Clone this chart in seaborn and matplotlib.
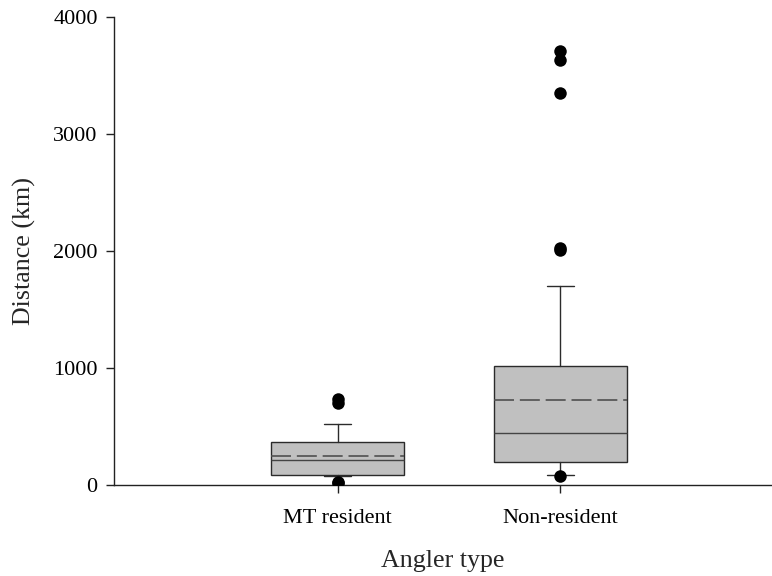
import matplotlib
matplotlib.use("Agg")
import matplotlib.pyplot as plt
import seaborn as sns
import pandas as pd

# Summary statistics per angler type (km)
groups = ["MT resident", "Non-resident"]
q1 = [85, 199]
median = [214, 444]
q3 = [365, 1017]
mean = [248, 726]
whisker_low = [80, 88]
whisker_high = [524, 1704]

# Points beyond the whiskers
outlier_group = ["MT resident", "MT resident", "MT resident", "MT resident",
                 "Non-resident", "Non-resident", "Non-resident",
                 "Non-resident", "Non-resident", "Non-resident"]
outlier_value = [733, 698, 15, 28,
                 3709, 3632, 3348, 2025, 2008, 78]

sns.set_style("ticks")
plt.rcParams["font.family"] = ["Liberation Serif", "DejaVu Serif"]

W, H = 772, 576
left_px, right_px, top_px, bottom_px = 114.3, 772, 16.7, 485

fig = plt.figure(figsize=(W / 100, H / 100), dpi=100)
ax = fig.add_axes([left_px / W, 1 - bottom_px / H,
                   (right_px - left_px) / W, (bottom_px - top_px) / H])

outliers = pd.DataFrame({"Angler type": outlier_group, "Distance (km)": outlier_value})
sns.stripplot(data=outliers, x="Angler type", y="Distance (km)", order=groups,
              jitter=False, color="black", size=9, linewidth=0, ax=ax, zorder=4)

stats = []
for i, g in enumerate(groups):
    stats.append({
        "label": g, "q1": q1[i], "med": median[i], "q3": q3[i], "mean": mean[i],
        "whislo": whisker_low[i], "whishi": whisker_high[i], "fliers": [],
    })

edge = "#2b2b2b"
ax.bxp(stats, positions=range(len(groups)), widths=0.6, capwidths=0.12,
       patch_artist=True, showmeans=True, meanline=True, showfliers=False,
       manage_ticks=False,
       boxprops=dict(facecolor="#c0c0c0", edgecolor=edge, linewidth=1.0),
       medianprops=dict(color="#444444", linewidth=1.0),
       meanprops=dict(color="#505050", linestyle=(0, (12, 3.5)), linewidth=1.2),
       whiskerprops=dict(color=edge, linewidth=1.0),
       capprops=dict(color=edge, linewidth=1.0),
       zorder=3)

ax.set_xlim(-1.002, 1.950)
ax.set_ylim(0, 4000)
ax.set_yticks([0, 1000, 2000, 3000, 4000])
ax.set_xticks(range(len(groups)))
ax.set_xticklabels(groups)

sns.despine(ax=ax)
for side in ("left", "bottom"):
    ax.spines[side].set_color("#222222")
    ax.spines[side].set_linewidth(1.0)
ax.tick_params(axis="both", direction="out", length=6, width=1.0, color="#222222",
               labelsize=16, labelcolor="black")
ax.tick_params(axis="y", pad=6)
ax.tick_params(axis="x", pad=11)

ax.set_xlabel("Angler type", fontsize=18.7)
ax.set_ylabel("Distance (km)", fontsize=18.7)
ax.yaxis.set_label_coords(-(left_px - 24) / (right_px - left_px), 0.5)
ax.xaxis.set_label_coords((443 - left_px) / (right_px - left_px),
                          -(561 - bottom_px) / (bottom_px - top_px))
ax.xaxis.label.set_va("center")
ax.yaxis.label.set_va("center")

fig.savefig("out.png", dpi=100)
